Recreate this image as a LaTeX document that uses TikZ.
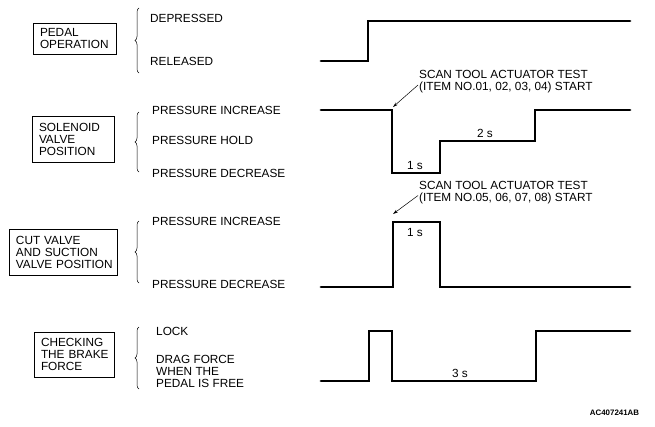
\documentclass[tikz,border=0pt]{standalone}
\usepackage{fontspec}
\setmainfont{Liberation Sans}
\usetikzlibrary{arrows.meta,decorations.pathreplacing}
\begin{document}
\begin{tikzpicture}[x=1pt,y=-1pt,
	txt/.style={font=\fontsize{11.8}{12}\selectfont,inner sep=0pt,anchor=west,align=left},
	titlebox/.style={draw,line width=0.8pt,font=\fontsize{11.8}{12}\selectfont,align=left,inner xsep=7pt,inner ysep=0pt},
	wave/.style={line width=2.8pt,line join=miter,line cap=round},
	curly/.style={decorate,decoration={brace,amplitude=4pt},line width=0.5pt},
	pointer/.style={line width=0.5pt,-{Stealth[length=5pt,width=3pt]}}]
			\useasboundingbox (0,0) rectangle (655,426);
			% titles
			\node[titlebox,text width=69pt,minimum height=31pt] (pedal) at(74.5,38.5){PEDAL\\OPERATION};
			\node[titlebox,text width=68pt,minimum height=46pt] (sol) at(73,139){SOLENOID\\VALVE\\POSITION};
			\node[titlebox,text width=94pt,minimum height=46pt] (cut) at(63,252){CUT VALVE\\AND SUCTION\\\mbox{VALVE POSITION}};
			\node[titlebox,text width=66pt,minimum height=45pt] (brake) at(74,354.5){CHECKING\\\mbox{THE BRAKE}\\FORCE};
			% braces
			\draw[curly](139,73)--(139,8);
			\draw[curly](139,172)--(139,112);
			\draw[curly](139,283)--(139,221);
			\draw[curly](139,389)--(139,327);
			% levels
			\node[txt] (dep) at(150,18.5){DEPRESSED};
			\node[txt] (rel) at(150,61){RELEASED};
			\node[txt] (incA) at(152,110){PRESSURE INCREASE};
			\node[txt] (hold) at(152,140){PRESSURE HOLD};
			\node[txt] (decA) at(152,173){PRESSURE DECREASE};
			\node[txt] (incB) at(152,221){PRESSURE INCREASE};
			\node[txt] (decB) at(152,284){PRESSURE DECREASE};
			\node[txt] (lock) at(156,331){LOCK};
			\node[txt] (drag) at(156,371.5){DRAG FORCE\\WHEN THE\\PEDAL IS FREE};
			% waveforms
			\draw[wave](321,61)--(368,61)--(368,21)--(630,21);
			\draw[wave](321,110)--(392,110)--(392,173)--(440,173)--(440,141)--(535,141)--(535,110)--(630,110);
			\draw[wave](321,287)--(393,287)--(393,222)--(440,222)--(440,287)--(630,287);
			\draw[wave](321,381)--(369,381)--(369,331)--(392,331)--(392,381)--(536,381)--(536,331)--(630,331);
			\node[txt,anchor=center] (t1) at(415,165){1 s};
			\node[txt,anchor=center] (t2) at(485,133){2 s};
			\node[txt,anchor=center] (t3) at(415,232){1 s};
			\node[txt,anchor=center] (t4) at(460,373){3 s};
			% scan tool notes
			\node[txt] (scanA) at(419,82){SCAN TOOL ACTUATOR TEST\\(ITEM NO.01, 02, 03, 04) START};
			\node[txt] (scanB) at(419,192.5){SCAN TOOL ACTUATOR TEST\\(ITEM NO.05, 06, 07, 08) START};
			\coordinate (pA) at(393,107);
			\coordinate (pB) at(393,214);
			\draw[pointer]([shift={(-1pt,-3pt)}]scanA.west)--(pA);
			\draw[pointer]([shift={(-1pt,-3pt)}]scanB.west)--(pB);
			\node[font=\fontsize{7.9}{8}\bfseries,inner sep=0pt] (code) at(614.5,413){AC407241AB};
			\end{tikzpicture}
\end{document}
